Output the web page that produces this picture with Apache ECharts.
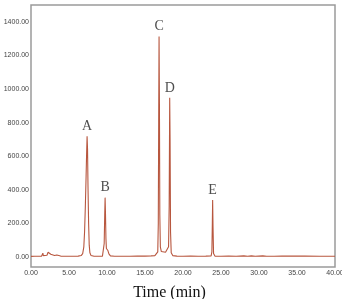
<!DOCTYPE html>
<html><head><meta charset="utf-8">
<script src="https://cdn.jsdelivr.net/npm/echarts@6/dist/echarts.min.js"></script>
<style>html,body{margin:0;padding:0;background:#fff}#c{width:342px;height:299px}</style>
</head><body><div id="c"></div>
<script>
var times = [0,0.5,1.0,1.4,1.5,1.56,1.62,1.8,2.1,2.25,2.4,2.6,2.8,3.1,3.4,3.6,3.9,4.5,5.5,6.2,6.6,6.8,6.95,7.05,7.15,7.25,7.32,7.38,7.44,7.5,7.58,7.66,7.75,7.9,8.3,9.0,9.4,9.55,9.63,9.7,9.75,9.8,9.86,9.92,10.0,10.12,10.25,10.45,11,12,13,14,15,15.8,16.3,16.55,16.68,16.75,16.8,16.85,16.9,16.95,17.02,17.15,17.4,17.7,17.95,18.1,18.18,18.25,18.3,18.36,18.45,18.65,19.2,20,21,22,23,23.7,23.8,23.86,23.9,23.95,24.02,24.2,25,26,27,28,28.5,29,29.5,30,30.5,31,32,33,34,35,36,38,40];
var signal = [3,4,4,5,15,22,8,6,10,28,24,16,10,8,12,10,5,4,4,5,8,20,60,150,300,480,620,718,640,420,200,70,25,8,4,4,5,15,80,250,353,260,110,50,42,38,18,6,4,4,4,5,5,6,8,15,30,200,800,1313,900,250,60,32,30,28,30,60,300,947,700,150,25,8,5,4,5,4,5,6,30,200,339,180,20,5,4,5,4,6,4,6,4,5,6,4,4,5,5,5,5,4,4];
var peakNames = ['A','B','C','D','E'];
var peakTimes = [7.38,9.75,16.85,18.25,23.9];
var peakHeights = [718,353,1313,947,339];
var yTicks = [0,200,400,600,800,1000,1200,1400];

var chart = echarts.init(document.getElementById('c'));
chart.setOption({
  animation:false,
  grid:{left:31,right:7,top:5,bottom:32,outerBoundsMode:'none',containLabel:false,show:true,borderColor:'#9a9a9a',borderWidth:1.5,backgroundColor:'#fff'},
  xAxis:{type:'value',min:0,max:40,interval:5,
    axisLine:{show:false},axisTick:{show:false},splitLine:{show:false},
    axisLabel:{fontSize:7,color:'#444',fontFamily:'Liberation Sans',margin:3,formatter:function(v){return v.toFixed(2);}},
    name:'Time (min)',nameLocation:'middle',nameGap:18,
    nameTextStyle:{fontFamily:'Liberation Serif',fontSize:16,color:'#111',padding:[0,27,0,0]}},
  yAxis:{type:'value',min:-60,max:1500,
    axisLine:{show:false},axisTick:{show:false},splitLine:{show:false},
    axisLabel:{customValues:yTicks,fontSize:7,color:'#444',fontFamily:'Liberation Sans',margin:2,formatter:function(v){return v.toFixed(2);}}},
  series:[
    {type:'line',data:times.map(function(t,i){return [t,signal[i]];}),showSymbol:false,
     lineStyle:{color:'#b8573f',width:1.1},silent:true},
    {type:'scatter',symbolSize:0,data:peakTimes.map(function(t,i){return {value:[t,peakHeights[i]],name:peakNames[i]};}),
     label:{show:true,position:'top',distance:3,formatter:function(p){return p.name;},
       fontFamily:'Liberation Serif',fontSize:14,color:'#222'}}
  ]
});
</script></body></html>
